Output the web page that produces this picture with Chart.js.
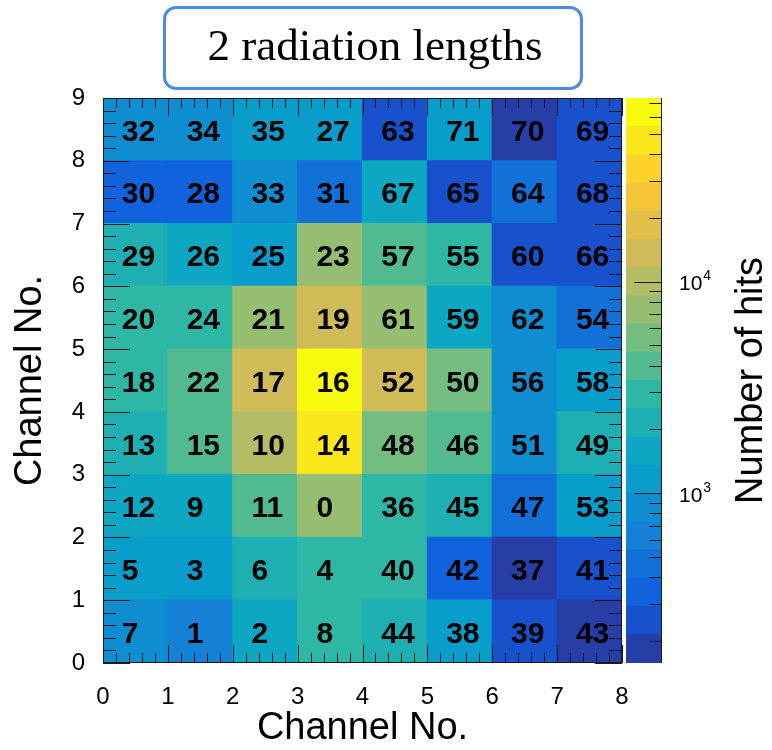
<!DOCTYPE html>
<html><head><meta charset="utf-8">
<script src="https://cdn.jsdelivr.net/npm/chart.js@4.4.0/dist/chart.umd.min.js"></script>
<style>
html,body{margin:0;padding:0;background:#fff;}
#wrap{position:relative;width:772px;height:750px;overflow:hidden;background:#fff;}
#box{position:absolute;left:163px;top:6px;width:414px;height:78px;border:3px solid #4d8ae8;border-radius:13px;
 font-family:"Liberation Serif","Times New Roman",serif;font-size:45px;color:#000;
 display:flex;align-items:center;justify-content:center;box-sizing:content-box;padding-bottom:0;}
#box span{position:relative;top:-3px;left:2px;}
#c1box{position:absolute;left:0;top:0;width:645px;height:750px;}
#c2box{position:absolute;left:620px;top:0;width:152px;height:750px;}
</style></head>
<body>
<div id="wrap">
 <div id="c1box"><canvas id="c1" width="645" height="750"></canvas></div>
 <div id="c2box"><canvas id="c2" width="152" height="750"></canvas></div>
 <div id="box"><span>2 radiation lengths</span></div>
</div>
<script>
// ---- data ----
const xAxisTitle = 'Channel No.';
const yAxisTitle = 'Channel No.';
const zAxisTitle = 'Number of hits';
const columns = [0,1,2,3,4,5,6,7];
const rows = [0,1,2,3,4,5,6,7,8];
// channel numbers, row 0 (bottom) .. row 8 (top)
const channelRows = [
 [7,1,2,8,44,38,39,43],
 [5,3,6,4,40,42,37,41],
 [12,9,11,0,36,45,47,53],
 [13,15,10,14,48,46,51,49],
 [18,22,17,16,52,50,56,58],
 [20,24,21,19,61,59,62,54],
 [29,26,25,23,57,55,60,66],
 [30,28,33,31,67,65,64,68],
 [32,34,35,27,63,71,70,69]
];
// number of hits per cell (estimated from colour), same layout
const hitRows = [
 [850,620,1550,2950,2200,1050,225,170],
 [1080,1200,1950,2800,3100,330,175,230],
 [1600,1580,3950,7400,3000,2150,430,1200],
 [2200,4000,10200,48000,5800,3800,880,2250],
 [2900,3900,13000,72000,12800,5500,870,1250],
 [2700,3000,7700,13500,7300,1700,900,460],
 [2100,1650,1150,7500,4100,2900,245,270],
 [345,320,920,470,1600,240,480,255],
 [880,860,1180,1220,250,1100,185,265]
];
const zMin = 157, zMax = 73800, nContours = 20;
const zLabelExponents = [3,4];

// ---- ROOT kBird palette ----
const birdStops=[0,0.125,0.25,0.375,0.5,0.625,0.75,0.875,1];
const birdR=[0.2082,0.0592,0.0780,0.0232,0.1802,0.5301,0.8186,0.9956,0.9764];
const birdG=[0.1664,0.3599,0.5041,0.6419,0.7178,0.7492,0.7328,0.7862,0.9832];
const birdB=[0.5293,0.8684,0.8385,0.7914,0.6425,0.4662,0.3499,0.1968,0.0539];
function birdColor(t){
  let k=0; while(k<birdStops.length-2 && t>birdStops[k+1]) k++;
  const f=(t-birdStops[k])/(birdStops[k+1]-birdStops[k]);
  const c=a=>Math.round(255*(a[k]+(a[k+1]-a[k])*f));
  return `rgb(${c(birdR)},${c(birdG)},${c(birdB)})`;
}
const lMin=Math.log10(zMin), lMax=Math.log10(zMax);
function bandOf(v){
  const f=(Math.log10(v)-lMin)/(lMax-lMin);
  return Math.max(0,Math.min(nContours-1,Math.floor(f*nContours)));
}
function bandColor(i){ const idx=Math.floor((i+0.99)*255/nContours); return birdColor(Math.min(1,idx/254)); }

const FONT='"Liberation Sans", Arial, Helvetica, sans-serif';

// ---- heat map ----
const heatDatasets = rows.map(r=>({
  data: columns.map(c=>({x:c+0.5, y:[r, r+1]})),
  backgroundColor: hitRows[r].map(v=>bandColor(bandOf(v))),
  grouped:false, barPercentage:1, categoryPercentage:1, borderWidth:0, inflateAmount:0.6
}));

const heatDecor = {
  id:'heatDecor',
  afterDatasetsDraw(chart){
    const {ctx, chartArea:a, scales:{x,y}} = chart;
    ctx.save();
    ctx.strokeStyle='#1a1a1a'; ctx.lineWidth=1;
    ctx.beginPath();
    for(let k=0;k<=40;k++){
      const px=Math.round(x.getPixelForValue(k*0.2))+0.5;
      const len=(k%5===0)?18:10;
      ctx.moveTo(px,a.bottom); ctx.lineTo(px,a.bottom-len);
      ctx.moveTo(px,a.top); ctx.lineTo(px,a.top+len);
    }
    for(let k=0;k<=45;k++){
      const py=Math.round(y.getPixelForValue(k*0.2))+0.5;
      const len=(k%5===0)?27:13;
      ctx.moveTo(a.left,py); ctx.lineTo(a.left+len,py);
      ctx.moveTo(a.right,py); ctx.lineTo(a.right-len,py);
    }
    ctx.stroke();
    ctx.strokeRect(a.left+0.5,a.top+0.5,a.width-1,a.height-1);
    ctx.fillStyle='#000';
    ctx.font='bold 30px '+FONT;
    ctx.textAlign='left'; ctx.textBaseline='middle';
    rows.forEach(r=>columns.forEach(c=>{
      ctx.fillText(String(channelRows[r][c]), x.getPixelForValue(c+0.29), y.getPixelForValue(r+0.5)+3);
    }));
    ctx.restore();
  }
};

new Chart(document.getElementById('c1'), {
  type:'bar',
  data:{datasets:heatDatasets},
  options:{
    responsive:false, animation:false, maintainAspectRatio:false,
    layout:{padding:{top:98,right:23,left:0,bottom:0}},
    plugins:{legend:{display:false},tooltip:{enabled:false},title:{display:false}},
    scales:{
      x:{type:'linear',min:0,max:8,offset:false,
         grid:{display:false,offset:false},border:{display:false},
         ticks:{stepSize:1,autoSkip:false,maxRotation:0,color:'#000',padding:12,font:{family:FONT,size:24}},
         title:{display:true,text:xAxisTitle,color:'#000',font:{family:FONT,size:38,lineHeight:1},padding:{top:0,bottom:2}},
         afterFit(s){s.height=87; s.paddingLeft=0; s.paddingRight=0;}},
      y:{type:'linear',min:0,max:9,
         grid:{display:false},border:{display:false},
         ticks:{stepSize:1,autoSkip:false,color:'#000',padding:10,font:{family:FONT,size:24}},
         title:{display:true,text:yAxisTitle,color:'#000',font:{family:FONT,size:38,lineHeight:1},padding:{top:12,bottom:0}},
         afterFit(s){s.width=103; s.paddingTop=0; s.paddingBottom=0;}}
    }
  },
  plugins:[heatDecor]
});

// ---- colour bar ----
const levels = Array.from({length:nContours+1},(_,i)=>Math.pow(10, lMin+(lMax-lMin)*i/nContours));
const barDatasets = levels.slice(0,-1).map((lo,i)=>({
  data:[[lo, levels[i+1]]], backgroundColor:bandColor(i),
  grouped:false, barPercentage:1, categoryPercentage:1, borderWidth:0, inflateAmount:0.6
}));

const barDecor = {
  id:'barDecor',
  afterDatasetsDraw(chart){
    const {ctx, chartArea:a, scales:{y}} = chart;
    ctx.save();
    ctx.strokeStyle='#1a1a1a'; ctx.lineWidth=1;
    ctx.beginPath();
    const rx=Math.round(a.right)-0.5;
    ctx.moveTo(rx,a.top); ctx.lineTo(rx,a.bottom);
    for(let e=2;e<=4;e++){
      for(let m=1;m<=9;m++){
        const v=m*Math.pow(10,e);
        if(v<zMin||v>zMax) continue;
        const py=Math.round(y.getPixelForValue(v))+0.5;
        const len=(m===1)?27:12;
        ctx.moveTo(rx,py); ctx.lineTo(rx-len,py);
      }
    }
    ctx.stroke();
    ctx.fillStyle='#000';
    zLabelExponents.forEach(e=>{
      const py=y.getPixelForValue(Math.pow(10,e));
      ctx.font='21px '+FONT; ctx.textAlign='left'; ctx.textBaseline='middle';
      const bx=a.right+17;
      ctx.fillText('10', bx, py+3);
      const w=ctx.measureText('10').width;
      ctx.font='14px '+FONT;
      ctx.fillText(String(e), bx+w+1, py-5);
    });
    ctx.font='38px '+FONT; ctx.textAlign='center'; ctx.textBaseline='middle';
    ctx.translate(132,(a.top+a.bottom)/2);
    ctx.rotate(-Math.PI/2);
    ctx.fillText(zAxisTitle,0,0);
    ctx.restore();
  }
};

new Chart(document.getElementById('c2'), {
  type:'bar',
  data:{labels:[''],datasets:barDatasets},
  options:{
    responsive:false, animation:false, maintainAspectRatio:false,
    layout:{padding:{top:98,right:110,left:6,bottom:87}},
    plugins:{legend:{display:false},tooltip:{enabled:false}},
    scales:{
      x:{type:'category',display:false},
      y:{type:'logarithmic',min:zMin,max:zMax,display:false}
    }
  },
  plugins:[barDecor]
});
</script>
</body></html>
